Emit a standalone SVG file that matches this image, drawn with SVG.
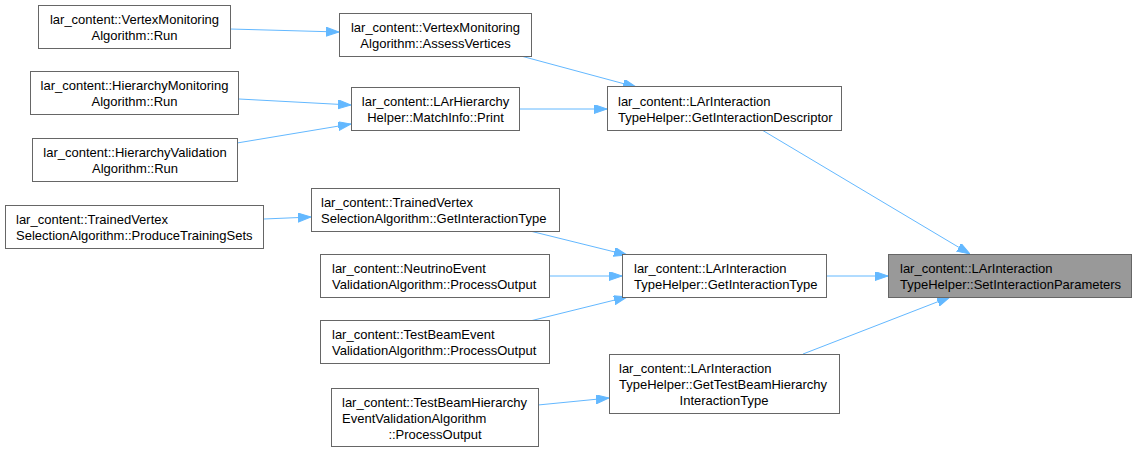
<svg xmlns="http://www.w3.org/2000/svg" width="1136" height="452" viewBox="0 0 1136 452">
<style>
.n rect{fill:#ffffff;stroke:#666666;stroke-width:1}
.n.cur rect{fill:#999999}
.n text{font-family:"Liberation Sans",Arial,sans-serif;font-size:13px;fill:#000000}
.c{text-anchor:middle}
.e path{fill:none;stroke:#63b8ff;stroke-width:1;marker-end:url(#ah)}
</style>
<defs>
<marker id="ah" markerUnits="userSpaceOnUse" markerWidth="13" markerHeight="10" refX="13" refY="4.5" orient="auto">
<path d="M0,0 L13,4.5 L0,9 z" fill="#63b8ff" stroke="#63b8ff" stroke-width="1"/>
</marker>
</defs>
<rect width="1136" height="452" fill="#ffffff"/>
<g id="edges" class="e">
<path d="M230,29 L339,32"/>
<path d="M239,99 L351,105"/>
<path d="M237,143 L351,124"/>
<path d="M264,219 L311,217"/>
<path d="M521,56 L636,87"/>
<path d="M519,109 L607,109"/>
<path d="M762,130 L970,254"/>
<path d="M530,231 L627,255"/>
<path d="M549,276 L622,276"/>
<path d="M530,321 L627,297"/>
<path d="M538,405 L609,398"/>
<path d="M826,276 L888,276"/>
<path d="M803,354 L950,297"/>
</g>
<g id="node_vm_run" class="n"><rect x="38.5" y="5.5" width="192" height="43"/><text class="c" x="134.5" y="24">lar_content::VertexMonitoring</text><text class="c" x="134.5" y="40">Algorithm::Run</text></g>
<g id="node_hm_run" class="n"><rect x="30.5" y="71.5" width="208" height="43"/><text class="c" x="134.5" y="90">lar_content::HierarchyMonitoring</text><text class="c" x="134.5" y="106">Algorithm::Run</text></g>
<g id="node_hv_run" class="n"><rect x="32.5" y="138.5" width="205" height="43"/><text class="c" x="135" y="157">lar_content::HierarchyValidation</text><text class="c" x="135" y="173">Algorithm::Run</text></g>
<g id="node_tv_pts" class="n"><rect x="5.5" y="205.5" width="258" height="43"/><text x="16" y="224">lar_content::TrainedVertex</text><text x="16" y="240">SelectionAlgorithm::ProduceTrainingSets</text></g>
<g id="node_vm_av" class="n"><rect x="339.5" y="13.5" width="192" height="43"/><text class="c" x="435.5" y="32">lar_content::VertexMonitoring</text><text class="c" x="435.5" y="48">Algorithm::AssessVertices</text></g>
<g id="node_lhh_print" class="n"><rect x="351.5" y="87.5" width="168" height="43"/><text class="c" x="435.5" y="106">lar_content::LArHierarchy</text><text class="c" x="435.5" y="122">Helper::MatchInfo::Print</text></g>
<g id="node_tv_git" class="n"><rect x="311.5" y="188.5" width="248" height="43"/><text x="321" y="207">lar_content::TrainedVertex</text><text x="321" y="223">SelectionAlgorithm::GetInteractionType</text></g>
<g id="node_nev_po" class="n"><rect x="320.5" y="254.5" width="229" height="43"/><text x="332" y="273">lar_content::NeutrinoEvent</text><text x="332" y="289">ValidationAlgorithm::ProcessOutput</text></g>
<g id="node_tbev_po" class="n"><rect x="320.5" y="320.5" width="229" height="43"/><text x="332" y="339">lar_content::TestBeamEvent</text><text x="332" y="355">ValidationAlgorithm::ProcessOutput</text></g>
<g id="node_tbhev_po" class="n"><rect x="331.5" y="388.5" width="207" height="58"/><text x="342" y="407">lar_content::TestBeamHierarchy</text><text x="342" y="423">EventValidationAlgorithm</text><text class="c" x="435" y="439">::ProcessOutput</text></g>
<g id="node_lith_gid" class="n"><rect x="607.5" y="86.5" width="234" height="44"/><text x="618" y="106">lar_content::LArInteraction</text><text x="618" y="122">TypeHelper::GetInteractionDescriptor</text></g>
<g id="node_lith_git" class="n"><rect x="622.5" y="254.5" width="204" height="43"/><text x="634" y="273">lar_content::LArInteraction</text><text x="634" y="289">TypeHelper::GetInteractionType</text></g>
<g id="node_lith_gtbhit" class="n"><rect x="609.5" y="354.5" width="230" height="59"/><text x="619" y="373">lar_content::LArInteraction</text><text x="619" y="389">TypeHelper::GetTestBeamHierarchy</text><text class="c" x="724" y="405">InteractionType</text></g>
<g id="node_lith_sip" class="n cur"><rect x="888.5" y="254.5" width="243" height="43"/><text x="900" y="273">lar_content::LArInteraction</text><text x="900" y="289">TypeHelper::SetInteractionParameters</text></g>
</svg>
